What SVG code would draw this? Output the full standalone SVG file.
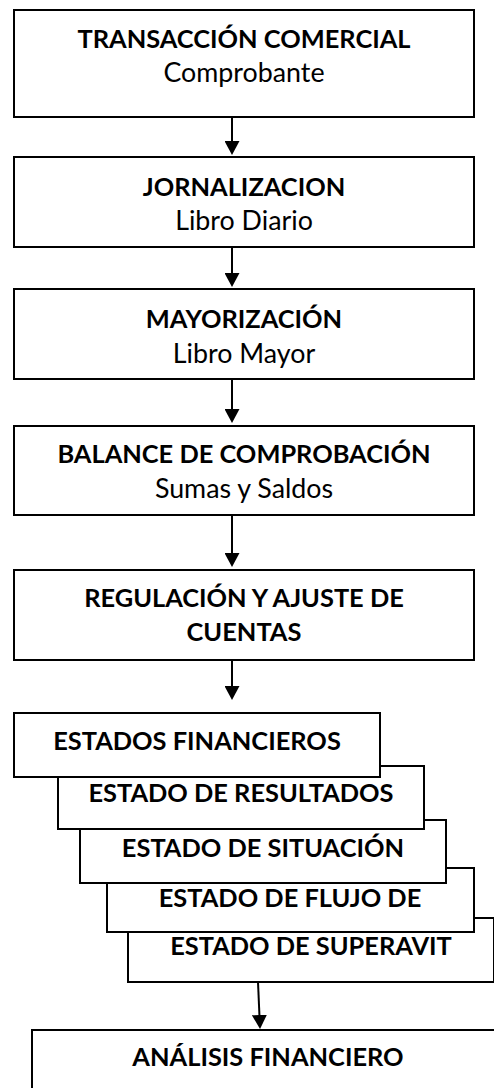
<svg xmlns="http://www.w3.org/2000/svg" width="494" height="1088" viewBox="0 0 494 1088">
<style>
.box{fill:#fff;stroke:#000;stroke-width:2}
.b{font-family:Lato,"Open Sans","Liberation Sans",sans-serif;font-weight:bold;font-size:25.4px;fill:#000;text-anchor:middle}
.r{font-family:Lato,"Open Sans","Liberation Sans",sans-serif;font-weight:normal;font-size:26.8px;fill:#000;text-anchor:middle}
.c{stroke:#000;stroke-width:2;fill:none}
</style>
<defs>
<marker id="ah" viewBox="0 0 14 15" refX="4" refY="7.5" markerWidth="14" markerHeight="15" markerUnits="userSpaceOnUse" orient="auto">
<path d="M0,0 L14,7.5 L0,15 Z" fill="#000"/>
</marker>
</defs>
<rect width="494" height="1088" fill="#fff"/>
<g id="n1"><rect class="box" x="14" y="10" width="460" height="107"/>
<text class="b" x="244" y="48">TRANSACCIÓN COMERCIAL</text>
<text class="r" x="244" y="82">Comprobante</text></g>
<g id="n2"><rect class="box" x="14" y="157" width="460" height="90"/>
<text class="b" x="244" y="196">JORNALIZACION</text>
<text class="r" x="244" y="230">Libro Diario</text></g>
<g id="n3"><rect class="box" x="14" y="289" width="460" height="90"/>
<text class="b" x="244" y="328">MAYORIZACIÓN</text>
<text class="r" x="244" y="363">Libro Mayor</text></g>
<g id="n4"><rect class="box" x="14" y="426" width="460" height="89"/>
<text class="b" x="244" y="463">BALANCE DE COMPROBACIÓN</text>
<text class="r" x="244" y="498">Sumas y Saldos</text></g>
<g id="n5"><rect class="box" x="14" y="570" width="460" height="90"/>
<text class="b" x="244" y="607">REGULACIÓN Y AJUSTE DE</text>
<text class="b" x="244" y="641">CUENTAS</text></g>
<g id="n10"><rect class="box" x="128" y="918" width="366" height="64"/>
<text class="b" x="311" y="955">ESTADO DE SUPERAVIT</text></g>
<g id="n9"><rect class="box" x="107" y="868" width="367" height="64"/>
<text class="b" x="290" y="907">ESTADO DE FLUJO DE</text></g>
<g id="n8"><rect class="box" x="80" y="820" width="366" height="63"/>
<text class="b" x="263" y="857">ESTADO DE SITUACIÓN</text></g>
<g id="n7"><rect class="box" x="58" y="766" width="366" height="63"/>
<text class="b" x="241" y="802">ESTADO DE RESULTADOS</text></g>
<g id="n6"><rect class="box" x="14" y="713" width="366" height="64"/>
<text class="b" x="197" y="750">ESTADOS FINANCIEROS</text></g>
<g id="n11"><rect class="box" x="32" y="1030" width="480" height="80"/>
<text class="b" x="268" y="1066">ANÁLISIS FINANCIERO</text></g>
<g id="connectors">
<line class="c" x1="232" y1="117" x2="232" y2="145" marker-end="url(#ah)"/>
<line class="c" x1="232" y1="247" x2="232" y2="277" marker-end="url(#ah)"/>
<line class="c" x1="232" y1="379" x2="232" y2="413" marker-end="url(#ah)"/>
<line class="c" x1="232" y1="515" x2="232" y2="557" marker-end="url(#ah)"/>
<line class="c" x1="232" y1="660" x2="232" y2="690" marker-end="url(#ah)"/>
<line class="c" x1="258" y1="982" x2="259.6" y2="1019" marker-end="url(#ah)"/>
</g>
</svg>
